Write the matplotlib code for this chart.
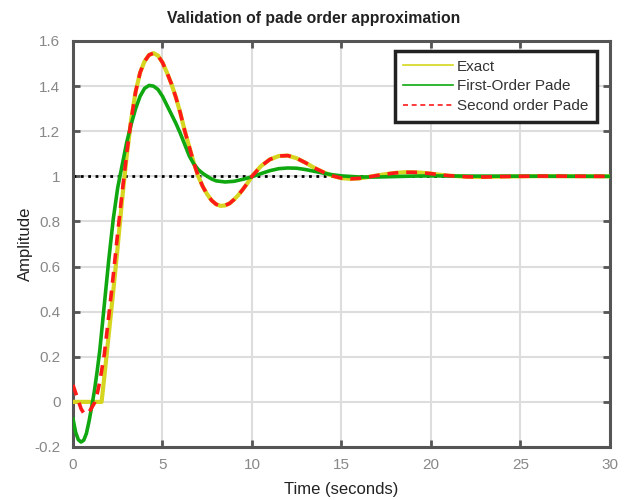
import matplotlib.pyplot as plt
from matplotlib.ticker import FuncFormatter

plt.rcParams['font.family'] = ['Liberation Sans', 'DejaVu Sans']

# exact delayed response
t_exact = [0, 1.6, 1.75, 2.0, 2.25, 2.5, 2.75, 3.0, 3.25, 3.5, 3.75, 4.0, 4.25, 4.5, 4.75,
           5.0, 5.25, 5.5, 5.75, 6.0, 6.25, 6.5, 6.75, 7.0, 7.25, 7.5, 7.75, 8.0, 8.25,
           8.5, 8.75, 9.0, 9.25, 9.5, 9.75, 10.0, 10.5, 11.0, 11.5, 12.0, 12.5, 13.0,
           13.5, 14.0, 14.5, 15.0, 15.5, 16.0, 16.5, 17.0, 17.5, 18.0, 18.5, 19.0, 19.5,
           20.0, 20.5, 21.0, 22.0, 23.0, 24.0, 26.0, 30.0]
y_exact = [0, 0, 0.11, 0.30, 0.49, 0.69, 0.90, 1.09, 1.25, 1.375, 1.46, 1.51, 1.538, 1.546, 1.535,
           1.505, 1.46, 1.41, 1.35, 1.28, 1.20, 1.13, 1.06, 1.0, 0.955, 0.92, 0.893, 0.876, 0.869,
           0.871, 0.88, 0.897, 0.918, 0.943, 0.97, 1.0, 1.045, 1.075, 1.09, 1.092, 1.08, 1.06,
           1.037, 1.018, 1.002, 0.992, 0.989, 0.991, 0.997, 1.004, 1.01, 1.015, 1.018, 1.018, 1.016,
           1.012, 1.007, 1.003, 0.998, 0.997, 0.999, 1.001, 1.0]

# first order pade
t_p1 = [0, 0.15, 0.3, 0.45, 0.6, 0.75, 0.9, 1.05, 1.2, 1.35, 1.5, 1.75, 2.0, 2.25, 2.5, 2.75,
        3.0, 3.25, 3.5, 3.75, 4.0, 4.25, 4.5, 4.75, 5.0, 5.25, 5.5, 5.75, 6.0, 6.25, 6.5, 6.75,
        7.0, 7.25, 7.5, 7.75, 8.0, 8.5, 9.0, 9.5, 10.0, 10.5, 11.0, 11.5, 12.0, 12.5, 13.0,
        13.5, 14.0, 14.5, 15.0, 16.0, 17.0, 18.0, 19.0, 20.0, 22.0, 30.0]
y_p1 = [-0.075, -0.135, -0.168, -0.178, -0.17, -0.14, -0.085, -0.02, 0.05, 0.135, 0.23, 0.43, 0.63, 0.81, 0.95, 1.05,
        1.15, 1.23, 1.30, 1.355, 1.39, 1.403, 1.40, 1.385, 1.355, 1.315, 1.275, 1.235, 1.19, 1.14, 1.09, 1.055,
        1.03, 1.013, 1.0, 0.988, 0.98, 0.975, 0.978, 0.987, 0.998, 1.012, 1.025, 1.034, 1.037, 1.036, 1.03,
        1.022, 1.014, 1.007, 1.002, 0.997, 0.997, 0.999, 1.001, 1.002, 1.001, 1.0]

# second order pade (joins the exact curve after t=3)
t_p2 = [0, 0.15, 0.3, 0.45, 0.6, 0.75, 0.9, 1.05, 1.2, 1.35, 1.5, 1.75, 2.0, 2.25, 2.5, 2.75, 3.0]
y_p2 = [0.075, 0.04, 0.005, -0.03, -0.05, -0.055, -0.045, -0.025, -0.005, 0.035, 0.09, 0.21, 0.38, 0.56, 0.75, 0.93, 1.10]
t_p2 = t_p2 + t_exact[8:]
y_p2 = y_p2 + y_exact[8:]

axcol = '#555555'

fig = plt.figure(figsize=(6.28, 5.0), dpi=100)
ax = fig.add_axes([0.1162, 0.106, 0.855, 0.812])

ax.plot([0, 30], [1, 1], color='black', linestyle=':', linewidth=2, zorder=2)
ax.plot(t_exact, y_exact, color='#d6d620', linewidth=3, label='Exact', zorder=3)
ax.plot(t_p1, y_p1, color='#10a810', linewidth=2.6, label='First-Order Pade', zorder=4)
ax.plot(t_p2, y_p2, color='#ff1a1a', linewidth=2.6, linestyle=(0, (3, 2.2)),
        label='Second order Pade', zorder=5)

ax.set_xlim(0, 30)
ax.set_ylim(-0.2, 1.6)
ax.set_xticks(range(0, 31, 5))
ax.set_yticks([-0.2, 0, 0.2, 0.4, 0.6, 0.8, 1.0, 1.2, 1.4, 1.6])
ax.yaxis.set_major_formatter(FuncFormatter(lambda v, p: '%g' % round(v, 2)))
ax.grid(True, color='#dddddd', linewidth=1.5)
ax.set_axisbelow(True)

for s in ax.spines.values():
    s.set_color(axcol)
    s.set_linewidth(2.2)
ax.tick_params(direction='in', length=5, width=2, color=axcol, labelcolor='#888888',
               labelsize=11, top=True, right=True)
ax.tick_params(axis='x', pad=8)
ax.tick_params(axis='y', pad=9)

ttl = ax.set_title('Validation of pade order approximation', fontsize=11.3, fontweight='bold',
                   color='#222222', pad=13)
ttl.set_x(0.449)
ax.set_xlabel('Time (seconds)', fontsize=12, color='#222222', labelpad=7)
ax.set_ylabel('Amplitude', fontsize=12, color='#222222', labelpad=1)

leg = ax.legend(loc='upper right', bbox_to_anchor=(0.976, 0.975), borderaxespad=0,
                fontsize=11, fancybox=False, framealpha=1, edgecolor='#222222',
                handlelength=3.3, borderpad=0.55, labelspacing=0.38, handletextpad=0.25)
leg.get_frame().set_linewidth(2.5)
for ln in leg.get_lines():
    ln.set_linewidth(1.2)
for txt in leg.get_texts():
    txt.set_color('#333333')

fig.savefig('out.png', dpi=100)
